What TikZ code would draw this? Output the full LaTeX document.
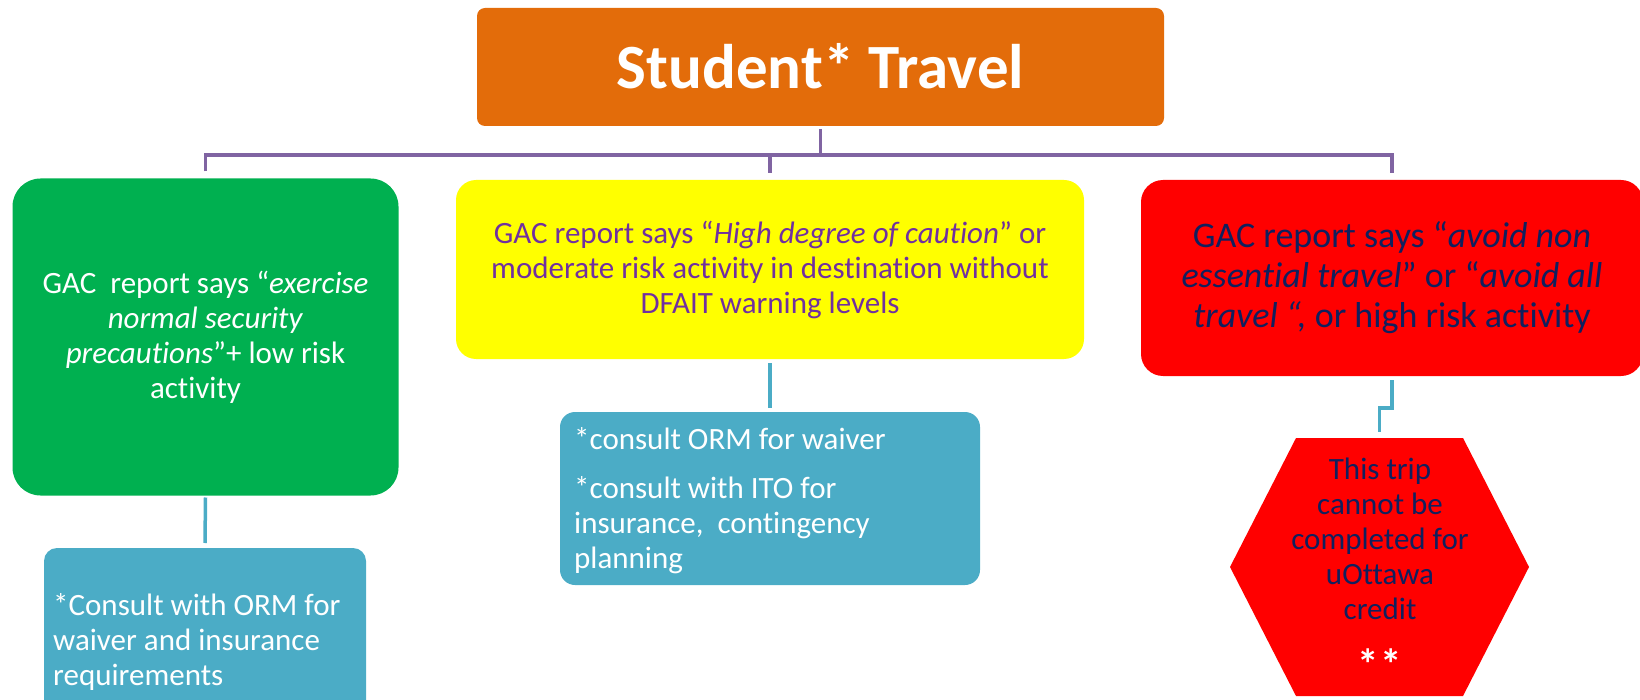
\documentclass[tikz,border=0pt]{standalone}
\usepackage{fontspec}
\setmainfont[Ligatures=NoCommon]{Carlito}
\definecolor{titleorange}{HTML}{E36C0A}
\definecolor{busviolet}{HTML}{8064A2}
\definecolor{safegreen}{HTML}{00B050}
\definecolor{cautionyellow}{HTML}{FFFF00}
\definecolor{dangerred}{HTML}{FF0000}
\definecolor{noteteal}{HTML}{4BACC6}
\definecolor{cautiontext}{HTML}{7030A0}
\definecolor{dangertext}{HTML}{10205E}
\newcommand\bodysize{\fontsize{31}{35}\selectfont}
\newcommand\bigbodysize{\fontsize{36}{40}\selectfont}
\begin{document}
\begin{tikzpicture}[x=1pt,y=-1pt,
  panel/.style={rounded corners=#1, inner sep=0pt, outer sep=0pt, align=center},
  busline/.style={draw=busviolet, line width=3.5pt},
  tealline/.style={draw=noteteal, line width=3.5pt},
  notetext/.style={anchor=north west, align=left, text=white, font=\bodysize, inner sep=0pt}]
\useasboundingbox (0,0) rectangle (1640,700);

% top heading
\node[panel=8pt, fill=titleorange, minimum width=687pt, minimum height=118pt,
      text=white, font=\fontsize{63}{70}\selectfont\bfseries] (title) at (820.5,67)
  {\raisebox{3pt}{Student* Travel}};

% three risk levels
\node[panel=28pt, fill=safegreen, minimum width=386pt, minimum height=317pt,
      text=white, font=\bodysize] (green) at (205.5,337)
  {GAC\ \ report says “\textit{exercise}\\
   \textit{normal security}\\
   \textit{precautions}”+ low risk\\
   activity\hspace*{20pt}};

\node[panel=20pt, fill=cautionyellow, minimum width=628pt, minimum height=179pt,
      text=cautiontext, font=\bodysize] (yellow) at (770,269.5)
  {GAC report says “\textit{High degree of caution}” or\\
   moderate risk activity in destination without\\
   DFAIT warning levels};

\node[panel=22pt, fill=dangerred, minimum width=502pt, minimum height=196pt,
      text=dangertext, font=\bigbodysize] (red) at (1392,278)
  {\raisebox{-2pt}{\parbox{480pt}{\centering
   GAC report says “\textit{avoid non}\\
   \textit{essential travel}” or “\textit{avoid all}\\
   \textit{travel “,} or high risk activity}}};

% follow-up notes
\node[panel=13pt, fill=noteteal, minimum width=322pt, minimum height=172pt] (noteA) at (205,634) {};
\node[notetext] (noteAtext) at (53,593)
  {*Consult with ORM for\\
   waiver and insurance\\
   requirements};

\node[panel=15pt, fill=noteteal, minimum width=420pt, minimum height=173pt] (noteB) at (770,498.5) {};
\node[notetext] (noteBtext) at (574,427)
  {*consult ORM for waiver\\[14pt]
   *consult with ITO for\\
   insurance,\ \ contingency\\
   planning};

% stop sign
\coordinate (hextop) at (1379.5,438);
\fill[dangerred] (1296,438) -- (1463,438) -- (1529,567) -- (1463,696)
  -- (1296,696) -- (1230,567) -- cycle;
\node[anchor=north, align=center, text=dangertext, font=\bodysize, inner sep=0pt] (hextext) at (1380,458)
  {This trip\\
   cannot be\\
   completed for\\
   uOttawa\\
   credit\\[25pt]
   \textcolor{white}{\fontsize{43}{35}\selectfont\bfseries *\kern2pt*}};

% connectors
\coordinate (bus) at (821,155);
\draw[busline] ([yshift=-3pt]title.south) -- (title.south |- bus);
\draw[busline] ([yshift=7pt]green.north) -- (green.north |- bus)
  -- (red.north |- bus) -- ([yshift=7pt]red.north);
\draw[busline] ([yshift=7pt]yellow.north) -- (yellow.north |- bus);

\draw[tealline] ([yshift=-2pt]green.south) -- ([yshift=5pt]noteA.north);
\draw[tealline] ([yshift=-4pt]yellow.south) -- ([yshift=4pt]noteB.north);
\draw[tealline] ([yshift=-4pt]red.south) -- ++(0,28) -| ([yshift=6pt]hextop);
\end{tikzpicture}
\end{document}
